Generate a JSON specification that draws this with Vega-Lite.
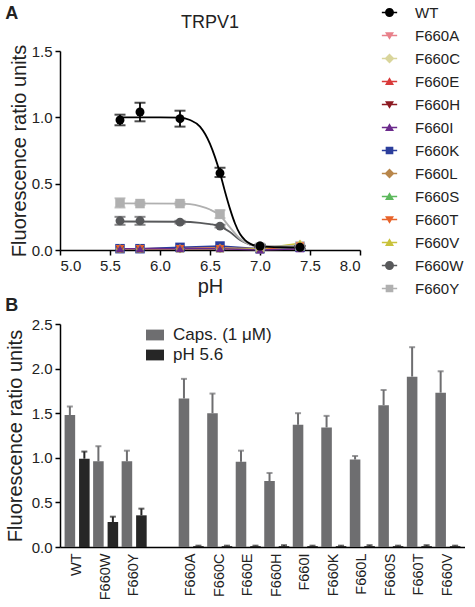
{
  "$schema": "https://vega.github.io/schema/vega-lite/v6.json",
  "padding": {"left": 5, "top": 5, "right": 0, "bottom": 0},
  "background": "white",
  "config": {
    "font": "Liberation Sans",
    "view": {"stroke": null},
    "axis": {"domainColor": "#000", "tickColor": "#000", "labelColor": "#222", "titleColor": "#222", "labelFontSize": 15, "titleFontSize": 20, "titleFontWeight": "normal", "grid": false, "tickSize": 5, "domainWidth": 1.5, "tickWidth": 1.5, "labelPadding": 3},
    "title": {"color": "#222"}
  },
  "title": {"text": "A", "anchor": "start", "frame": "bounds", "fontSize": 18, "fontWeight": "bold", "offset": -18},
  "resolve": {"scale": {"color": "independent"}},
  "align": "none",
  "spacing": 0,
  "datasets": {
    "obs": [
      {"strain": "F660A", "pH": 5.6, "value": 0.01, "lo": 0.01, "hi": 0.01, "err": 0},
      {"strain": "F660A", "pH": 5.8, "value": 0.01, "lo": 0.01, "hi": 0.01, "err": 0},
      {"strain": "F660A", "pH": 6.2, "value": 0.01, "lo": 0.01, "hi": 0.01, "err": 0},
      {"strain": "F660A", "pH": 6.6, "value": 0.01, "lo": 0.01, "hi": 0.01, "err": 0},
      {"strain": "F660A", "pH": 7.0, "value": 0.005, "lo": 0.005, "hi": 0.005, "err": 0},
      {"strain": "F660A", "pH": 7.4, "value": 0.03, "lo": 0.03, "hi": 0.03, "err": 0},
      {"strain": "F660C", "pH": 5.6, "value": 0.01, "lo": 0.01, "hi": 0.01, "err": 0},
      {"strain": "F660C", "pH": 5.8, "value": 0.01, "lo": 0.01, "hi": 0.01, "err": 0},
      {"strain": "F660C", "pH": 6.2, "value": 0.01, "lo": 0.01, "hi": 0.01, "err": 0},
      {"strain": "F660C", "pH": 6.6, "value": 0.01, "lo": 0.01, "hi": 0.01, "err": 0},
      {"strain": "F660C", "pH": 7.0, "value": 0.005, "lo": 0.005, "hi": 0.005, "err": 0},
      {"strain": "F660C", "pH": 7.4, "value": 0.045, "lo": 0.045, "hi": 0.045, "err": 0},
      {"strain": "F660E", "pH": 5.6, "value": 0.01, "lo": 0.01, "hi": 0.01, "err": 0},
      {"strain": "F660E", "pH": 5.8, "value": 0.01, "lo": 0.01, "hi": 0.01, "err": 0},
      {"strain": "F660E", "pH": 6.2, "value": 0.015, "lo": 0.015, "hi": 0.015, "err": 0},
      {"strain": "F660E", "pH": 6.6, "value": 0.015, "lo": 0.015, "hi": 0.015, "err": 0},
      {"strain": "F660E", "pH": 7.0, "value": 0.005, "lo": 0.005, "hi": 0.005, "err": 0},
      {"strain": "F660E", "pH": 7.4, "value": 0.02, "lo": 0.02, "hi": 0.02, "err": 0},
      {"strain": "F660H", "pH": 5.6, "value": 0.005, "lo": 0.005, "hi": 0.005, "err": 0},
      {"strain": "F660H", "pH": 5.8, "value": 0.005, "lo": 0.005, "hi": 0.005, "err": 0},
      {"strain": "F660H", "pH": 6.2, "value": 0.01, "lo": 0.01, "hi": 0.01, "err": 0},
      {"strain": "F660H", "pH": 6.6, "value": 0.01, "lo": 0.01, "hi": 0.01, "err": 0},
      {"strain": "F660H", "pH": 7.0, "value": 0.005, "lo": 0.005, "hi": 0.005, "err": 0},
      {"strain": "F660H", "pH": 7.4, "value": 0.01, "lo": 0.01, "hi": 0.01, "err": 0},
      {"strain": "F660K", "pH": 5.6, "value": 0.01, "lo": 0.01, "hi": 0.01, "err": 0},
      {"strain": "F660K", "pH": 5.8, "value": 0.01, "lo": 0.01, "hi": 0.01, "err": 0},
      {"strain": "F660K", "pH": 6.2, "value": 0.02, "lo": 0.02, "hi": 0.02, "err": 0},
      {"strain": "F660K", "pH": 6.6, "value": 0.03, "lo": 0.03, "hi": 0.03, "err": 0},
      {"strain": "F660K", "pH": 7.0, "value": 0.01, "lo": 0.01, "hi": 0.01, "err": 0},
      {"strain": "F660K", "pH": 7.4, "value": 0.02, "lo": 0.02, "hi": 0.02, "err": 0},
      {"strain": "F660L", "pH": 5.6, "value": 0.01, "lo": 0.01, "hi": 0.01, "err": 0},
      {"strain": "F660L", "pH": 5.8, "value": 0.01, "lo": 0.01, "hi": 0.01, "err": 0},
      {"strain": "F660L", "pH": 6.2, "value": 0.01, "lo": 0.01, "hi": 0.01, "err": 0},
      {"strain": "F660L", "pH": 6.6, "value": 0.015, "lo": 0.015, "hi": 0.015, "err": 0},
      {"strain": "F660L", "pH": 7.0, "value": 0.01, "lo": 0.01, "hi": 0.01, "err": 0},
      {"strain": "F660L", "pH": 7.4, "value": 0.03, "lo": 0.03, "hi": 0.03, "err": 0},
      {"strain": "F660S", "pH": 5.6, "value": 0.01, "lo": 0.01, "hi": 0.01, "err": 0},
      {"strain": "F660S", "pH": 5.8, "value": 0.01, "lo": 0.01, "hi": 0.01, "err": 0},
      {"strain": "F660S", "pH": 6.2, "value": 0.01, "lo": 0.01, "hi": 0.01, "err": 0},
      {"strain": "F660S", "pH": 6.6, "value": 0.01, "lo": 0.01, "hi": 0.01, "err": 0},
      {"strain": "F660S", "pH": 7.0, "value": 0.005, "lo": 0.005, "hi": 0.005, "err": 0},
      {"strain": "F660S", "pH": 7.4, "value": 0.02, "lo": 0.02, "hi": 0.02, "err": 0},
      {"strain": "F660T", "pH": 5.6, "value": 0.01, "lo": 0.01, "hi": 0.01, "err": 0},
      {"strain": "F660T", "pH": 5.8, "value": 0.01, "lo": 0.01, "hi": 0.01, "err": 0},
      {"strain": "F660T", "pH": 6.2, "value": 0.01, "lo": 0.01, "hi": 0.01, "err": 0},
      {"strain": "F660T", "pH": 6.6, "value": 0.01, "lo": 0.01, "hi": 0.01, "err": 0},
      {"strain": "F660T", "pH": 7.0, "value": 0.005, "lo": 0.005, "hi": 0.005, "err": 0},
      {"strain": "F660T", "pH": 7.4, "value": 0.03, "lo": 0.03, "hi": 0.03, "err": 0},
      {"strain": "F660V", "pH": 5.6, "value": 0.01, "lo": 0.01, "hi": 0.01, "err": 0},
      {"strain": "F660V", "pH": 5.8, "value": 0.01, "lo": 0.01, "hi": 0.01, "err": 0},
      {"strain": "F660V", "pH": 6.2, "value": 0.01, "lo": 0.01, "hi": 0.01, "err": 0},
      {"strain": "F660V", "pH": 6.6, "value": 0.01, "lo": 0.01, "hi": 0.01, "err": 0},
      {"strain": "F660V", "pH": 7.0, "value": 0.01, "lo": 0.01, "hi": 0.01, "err": 0},
      {"strain": "F660V", "pH": 7.4, "value": 0.05, "lo": 0.05, "hi": 0.05, "err": 0},
      {"strain": "F660I", "pH": 5.6, "value": 0.01, "lo": 0.01, "hi": 0.01, "err": 0},
      {"strain": "F660I", "pH": 5.8, "value": 0.01, "lo": 0.01, "hi": 0.01, "err": 0},
      {"strain": "F660I", "pH": 6.2, "value": 0.01, "lo": 0.01, "hi": 0.01, "err": 0},
      {"strain": "F660I", "pH": 6.6, "value": 0.01, "lo": 0.01, "hi": 0.01, "err": 0},
      {"strain": "F660I", "pH": 7.0, "value": 0.0, "lo": 0.0, "hi": 0.0, "err": 0},
      {"strain": "F660I", "pH": 7.4, "value": 0.01, "lo": 0.01, "hi": 0.01, "err": 0},
      {"strain": "F660W", "pH": 5.6, "value": 0.22, "lo": 0.19, "hi": 0.25, "err": 0.03},
      {"strain": "F660W", "pH": 5.8, "value": 0.22, "lo": 0.19, "hi": 0.25, "err": 0.03},
      {"strain": "F660W", "pH": 6.2, "value": 0.21, "lo": 0.2, "hi": 0.22, "err": 0.01},
      {"strain": "F660W", "pH": 6.6, "value": 0.18, "lo": 0.17, "hi": 0.19, "err": 0.01},
      {"strain": "F660W", "pH": 7.0, "value": 0.03, "lo": 0.02, "hi": 0.04, "err": 0.01},
      {"strain": "F660W", "pH": 7.4, "value": 0.02, "lo": 0.01, "hi": 0.03, "err": 0.01},
      {"strain": "F660Y", "pH": 5.6, "value": 0.355, "lo": 0.32, "hi": 0.39, "err": 0.035},
      {"strain": "F660Y", "pH": 5.8, "value": 0.35, "lo": 0.34, "hi": 0.36, "err": 0.01},
      {"strain": "F660Y", "pH": 6.2, "value": 0.35, "lo": 0.34, "hi": 0.36, "err": 0.01},
      {"strain": "F660Y", "pH": 6.6, "value": 0.27, "lo": 0.24, "hi": 0.3, "err": 0.03},
      {"strain": "F660Y", "pH": 7.0, "value": 0.02, "lo": 0.01, "hi": 0.03, "err": 0.01},
      {"strain": "F660Y", "pH": 7.4, "value": 0.03, "lo": 0.02, "hi": 0.04, "err": 0.01},
      {"strain": "WT", "pH": 5.6, "value": 0.98, "lo": 0.94, "hi": 1.02, "err": 0.04},
      {"strain": "WT", "pH": 5.8, "value": 1.04, "lo": 0.97, "hi": 1.11, "err": 0.07},
      {"strain": "WT", "pH": 6.2, "value": 0.99, "lo": 0.93, "hi": 1.05, "err": 0.06},
      {"strain": "WT", "pH": 6.6, "value": 0.58, "lo": 0.55, "hi": 0.62, "err": 0.035},
      {"strain": "WT", "pH": 7.0, "value": 0.03, "lo": 0.02, "hi": 0.04, "err": 0.01},
      {"strain": "WT", "pH": 7.4, "value": 0.02, "lo": 0.01, "hi": 0.03, "err": 0.01}
    ],
    "fit": [
      {"strain": "F660W", "pH": 5.6, "value": 0.215},
      {"strain": "F660W", "pH": 6.2, "value": 0.213},
      {"strain": "F660W", "pH": 6.4, "value": 0.205},
      {"strain": "F660W", "pH": 6.5, "value": 0.195},
      {"strain": "F660W", "pH": 6.6, "value": 0.178},
      {"strain": "F660W", "pH": 6.7, "value": 0.135},
      {"strain": "F660W", "pH": 6.8, "value": 0.075},
      {"strain": "F660W", "pH": 6.9, "value": 0.04},
      {"strain": "F660W", "pH": 7.0, "value": 0.028},
      {"strain": "F660W", "pH": 7.4, "value": 0.025},
      {"strain": "F660Y", "pH": 5.6, "value": 0.352},
      {"strain": "F660Y", "pH": 6.2, "value": 0.35},
      {"strain": "F660Y", "pH": 6.3, "value": 0.345},
      {"strain": "F660Y", "pH": 6.4, "value": 0.33},
      {"strain": "F660Y", "pH": 6.5, "value": 0.305},
      {"strain": "F660Y", "pH": 6.6, "value": 0.26},
      {"strain": "F660Y", "pH": 6.7, "value": 0.17},
      {"strain": "F660Y", "pH": 6.8, "value": 0.085},
      {"strain": "F660Y", "pH": 6.9, "value": 0.04},
      {"strain": "F660Y", "pH": 7.0, "value": 0.027},
      {"strain": "F660Y", "pH": 7.4, "value": 0.03},
      {"strain": "WT", "pH": 5.6, "value": 1.0},
      {"strain": "WT", "pH": 6.0, "value": 1.0},
      {"strain": "WT", "pH": 6.2, "value": 0.998},
      {"strain": "WT", "pH": 6.3, "value": 0.98},
      {"strain": "WT", "pH": 6.4, "value": 0.93},
      {"strain": "WT", "pH": 6.5, "value": 0.8},
      {"strain": "WT", "pH": 6.55, "value": 0.7},
      {"strain": "WT", "pH": 6.6, "value": 0.58},
      {"strain": "WT", "pH": 6.65, "value": 0.44},
      {"strain": "WT", "pH": 6.7, "value": 0.31},
      {"strain": "WT", "pH": 6.75, "value": 0.2},
      {"strain": "WT", "pH": 6.8, "value": 0.12},
      {"strain": "WT", "pH": 6.85, "value": 0.075},
      {"strain": "WT", "pH": 6.9, "value": 0.048},
      {"strain": "WT", "pH": 7.0, "value": 0.027},
      {"strain": "WT", "pH": 7.2, "value": 0.021},
      {"strain": "WT", "pH": 7.4, "value": 0.02}
    ],
    "bars": [
      {"strain": "WT", "cond": "Caps. (1 μM)", "value": 1.48, "hi": 1.575},
      {"strain": "WT", "cond": "pH 5.6", "value": 0.99, "hi": 1.07},
      {"strain": "F660W", "cond": "Caps. (1 μM)", "value": 0.96, "hi": 1.13},
      {"strain": "F660W", "cond": "pH 5.6", "value": 0.28, "hi": 0.34},
      {"strain": "F660Y", "cond": "Caps. (1 μM)", "value": 0.96, "hi": 1.08},
      {"strain": "F660Y", "cond": "pH 5.6", "value": 0.355, "hi": 0.43},
      {"strain": "F660A", "cond": "Caps. (1 μM)", "value": 1.665, "hi": 1.885},
      {"strain": "F660A", "cond": "pH 5.6", "value": 0.01, "hi": 0.015},
      {"strain": "F660C", "cond": "Caps. (1 μM)", "value": 1.5, "hi": 1.72},
      {"strain": "F660C", "cond": "pH 5.6", "value": 0.01, "hi": 0.015},
      {"strain": "F660E", "cond": "Caps. (1 μM)", "value": 0.955, "hi": 1.08},
      {"strain": "F660E", "cond": "pH 5.6", "value": 0.01, "hi": 0.015},
      {"strain": "F660H", "cond": "Caps. (1 μM)", "value": 0.74, "hi": 0.83},
      {"strain": "F660H", "cond": "pH 5.6", "value": 0.01, "hi": 0.02},
      {"strain": "F660I", "cond": "Caps. (1 μM)", "value": 1.37, "hi": 1.5},
      {"strain": "F660I", "cond": "pH 5.6", "value": 0.01, "hi": 0.015},
      {"strain": "F660K", "cond": "Caps. (1 μM)", "value": 1.34, "hi": 1.47},
      {"strain": "F660K", "cond": "pH 5.6", "value": 0.01, "hi": 0.015},
      {"strain": "F660L", "cond": "Caps. (1 μM)", "value": 0.98, "hi": 1.02},
      {"strain": "F660L", "cond": "pH 5.6", "value": 0.01, "hi": 0.02},
      {"strain": "F660S", "cond": "Caps. (1 μM)", "value": 1.59, "hi": 1.76},
      {"strain": "F660S", "cond": "pH 5.6", "value": 0.01, "hi": 0.015},
      {"strain": "F660T", "cond": "Caps. (1 μM)", "value": 1.91, "hi": 2.24},
      {"strain": "F660T", "cond": "pH 5.6", "value": 0.01, "hi": 0.02},
      {"strain": "F660V", "cond": "Caps. (1 μM)", "value": 1.73, "hi": 1.97},
      {"strain": "F660V", "cond": "pH 5.6", "value": 0.01, "hi": 0.015}
    ]
  },
  "vconcat": [
    {
      "width": 300,
      "height": 199,
      "title": {"text": "TRPV1", "fontSize": 18, "fontWeight": "normal", "anchor": "middle", "offset": -27},
      "encoding": {
        "x": {"field": "pH", "type": "quantitative", "scale": {"domain": [5, 8], "nice": false}, "axis": {"values": [5, 5.5, 6, 6.5, 7, 7.5, 8], "format": ".1f", "title": "pH", "titlePadding": 3}},
        "y": {"field": "value", "type": "quantitative", "scale": {"domain": [0, 1.5], "nice": false}, "axis": {"values": [0, 0.5, 1, 1.5], "format": ".1f", "title": "Fluorescence ratio units", "titlePadding": 2}},
        "color": {
          "field": "strain", "type": "nominal",
          "scale": {"domain": ["WT", "F660A", "F660C", "F660E", "F660H", "F660I", "F660K", "F660L", "F660S", "F660T", "F660V", "F660W", "F660Y"], "range": ["#000000", "#e8808a", "#d9d59b", "#d93a3a", "#8c1a22", "#6b2a8c", "#2b3d9c", "#b8864a", "#5cb85c", "#e8632a", "#c9c23a", "#58595b", "#b0b0b0"]},
          "legend": {
            "title": null, "orient": "none", "legendX": 322, "legendY": -46, "padding": 0,
            "symbolSize": 81, "symbolStrokeWidth": 0, "labelFontSize": 15, "labelColor": "#222", "labelOffset": 18, "rowPadding": 7,
            "encode": {
              "symbols": {
                "update": {
                  "shape": {"signal": "['M-1.7,-0.17H1.7V0.17H-1.7ZM-1,0A1,1 0 1,1 1,0A1,1 0 1,1 -1,0Z','M-1.7,-0.17H1.7V0.17H-1.7ZM-1,-0.75L1,-0.75L0,0.95Z','M-1.7,-0.17H1.7V0.17H-1.7ZM0,-1.1L1.1,0L0,1.1L-1.1,0Z','M-1.7,-0.17H1.7V0.17H-1.7ZM-1,0.75L0,-0.95L1,0.75Z','M-1.7,-0.17H1.7V0.17H-1.7ZM-1,-0.75L1,-0.75L0,0.95Z','M-1.7,-0.17H1.7V0.17H-1.7ZM-1,0.75L0,-0.95L1,0.75Z','M-1.7,-0.17H1.7V0.17H-1.7ZM-0.85,-0.85H0.85V0.85H-0.85Z','M-1.7,-0.17H1.7V0.17H-1.7ZM0,-1.1L1.1,0L0,1.1L-1.1,0Z','M-1.7,-0.17H1.7V0.17H-1.7ZM-1,0.75L0,-0.95L1,0.75Z','M-1.7,-0.17H1.7V0.17H-1.7ZM-1,-0.75L1,-0.75L0,0.95Z','M-1.7,-0.17H1.7V0.17H-1.7ZM-1,0.75L0,-0.95L1,0.75Z','M-1.7,-0.17H1.7V0.17H-1.7ZM-1,0A1,1 0 1,1 1,0A1,1 0 1,1 -1,0Z','M-1.7,-0.17H1.7V0.17H-1.7ZM-0.85,-0.85H0.85V0.85H-0.85Z'][indexof(['WT','F660A','F660C','F660E','F660H','F660I','F660K','F660L','F660S','F660T','F660V','F660W','F660Y'], datum.value)]"},
                  "fill": {"signal": "['#000000','#e8808a','#d9d59b','#d93a3a','#8c1a22','#6b2a8c','#2b3d9c','#b8864a','#5cb85c','#e8632a','#c9c23a','#58595b','#b0b0b0'][indexof(['WT','F660A','F660C','F660E','F660H','F660I','F660K','F660L','F660S','F660T','F660V','F660W','F660Y'], datum.value)]"},
                  "opacity": {"value": 1},
                  "strokeWidth": {"value": 0}
                }
              }
            }
          }
        }
      },
      "layer": [
        {
          "data": {"name": "obs"},
          "transform": [{"filter": "datum.err == 0"}],
          "mark": {"type": "line", "strokeWidth": 1.5},
          "encoding": {"detail": {"field": "strain"}}
        },
        {
          "data": {"name": "fit"},
          "mark": {"type": "line", "strokeWidth": 1.8, "interpolate": "monotone"},
          "encoding": {"detail": {"field": "strain"}}
        },
        {
          "data": {"name": "obs"},
          "transform": [{"filter": "datum.err > 0"}],
          "mark": {"type": "rule", "strokeWidth": 1.8},
          "encoding": {"y": {"field": "lo", "type": "quantitative"}, "y2": {"field": "hi"}}
        },
        {
          "data": {"name": "obs"},
          "transform": [{"filter": "datum.err > 0"}],
          "mark": {"type": "tick", "orient": "horizontal", "size": 11, "thickness": 2},
          "encoding": {"y": {"field": "hi", "type": "quantitative"}}
        },
        {
          "data": {"name": "obs"},
          "transform": [{"filter": "datum.err > 0"}],
          "mark": {"type": "tick", "orient": "horizontal", "size": 11, "thickness": 2},
          "encoding": {"y": {"field": "lo", "type": "quantitative"}}
        },
        {
          "data": {"name": "obs"},
          "transform": [{"filter": {"field": "strain", "oneOf": ["F660K", "F660Y"]}}],
          "mark": {"type": "point", "shape": "square", "filled": true, "opacity": 1, "size": 90, "strokeWidth": 0}
        },
        {
          "data": {"name": "obs"},
          "transform": [{"filter": {"field": "strain", "oneOf": ["F660C", "F660L"]}}],
          "mark": {"type": "point", "shape": "diamond", "filled": true, "opacity": 1, "size": 80, "strokeWidth": 0}
        },
        {
          "data": {"name": "obs"},
          "transform": [{"filter": {"field": "strain", "oneOf": ["F660A", "F660H", "F660T"]}}],
          "mark": {"type": "point", "shape": "triangle-down", "filled": true, "opacity": 1, "size": 70, "strokeWidth": 0}
        },
        {
          "data": {"name": "obs"},
          "transform": [{"filter": {"field": "strain", "oneOf": ["F660E", "F660S", "F660V", "F660I"]}}],
          "mark": {"type": "point", "shape": "triangle-up", "filled": true, "opacity": 1, "size": 70, "strokeWidth": 0}
        },
        {
          "data": {"name": "obs"},
          "transform": [{"filter": {"field": "strain", "oneOf": ["WT", "F660W"]}}],
          "mark": {"type": "point", "shape": "circle", "filled": true, "opacity": 1, "size": 80, "strokeWidth": 0}
        }
      ]
    },
    {
      "width": 405,
      "height": 223,
      "title": {"text": "B", "anchor": "start", "frame": "bounds", "fontSize": 18, "fontWeight": "bold", "offset": 2},
      "data": {"name": "bars"},
      "encoding": {
        "x": {"field": "strain", "type": "nominal", "scale": {"domain": ["WT", "F660W", "F660Y", "gap", "F660A", "F660C", "F660E", "F660H", "F660I", "F660K", "F660L", "F660S", "F660T", "F660V"], "paddingInner": 0, "paddingOuter": 0.1}, "axis": {"title": null, "labelAngle": -90, "ticks": false, "labelExpr": "datum.value == 'gap' ? '' : datum.value", "labelPadding": 6, "labelFontSize": 14.5}},
        "xOffset": {"field": "cond", "type": "nominal", "scale": {"domain": ["Caps. (1 μM)", "pH 5.6"], "paddingInner": 0.27, "paddingOuter": 0.12}},
        "color": {"field": "cond", "type": "nominal", "scale": {"domain": ["Caps. (1 μM)", "pH 5.6"], "range": ["#6e6e70", "#262626"]}, "legend": {"title": null, "orient": "none", "legendX": 86, "legendY": 2, "symbolType": "M-1,-0.6H1V0.6H-1Z", "symbolSize": 324, "symbolStrokeWidth": 0, "symbolOpacity": 1, "labelFontSize": 17, "labelColor": "#222", "labelOffset": 9, "rowPadding": 3, "padding": 0}}
      },
      "layer": [
        {
          "mark": {"type": "bar", "opacity": 1},
          "encoding": {"y": {"field": "value", "type": "quantitative", "scale": {"domain": [0, 2.5], "nice": false}, "axis": {"values": [0, 0.5, 1, 1.5, 2, 2.5], "format": ".1f", "title": "Fluorescence ratio units", "titlePadding": 6}}}
        },
        {
          "mark": {"type": "rule", "strokeWidth": 2},
          "encoding": {"y": {"field": "value", "type": "quantitative"}, "y2": {"field": "hi"}}
        },
        {
          "mark": {"type": "tick", "orient": "horizontal", "size": 6, "thickness": 2},
          "encoding": {"y": {"field": "hi", "type": "quantitative"}}
        }
      ]
    }
  ]
}
